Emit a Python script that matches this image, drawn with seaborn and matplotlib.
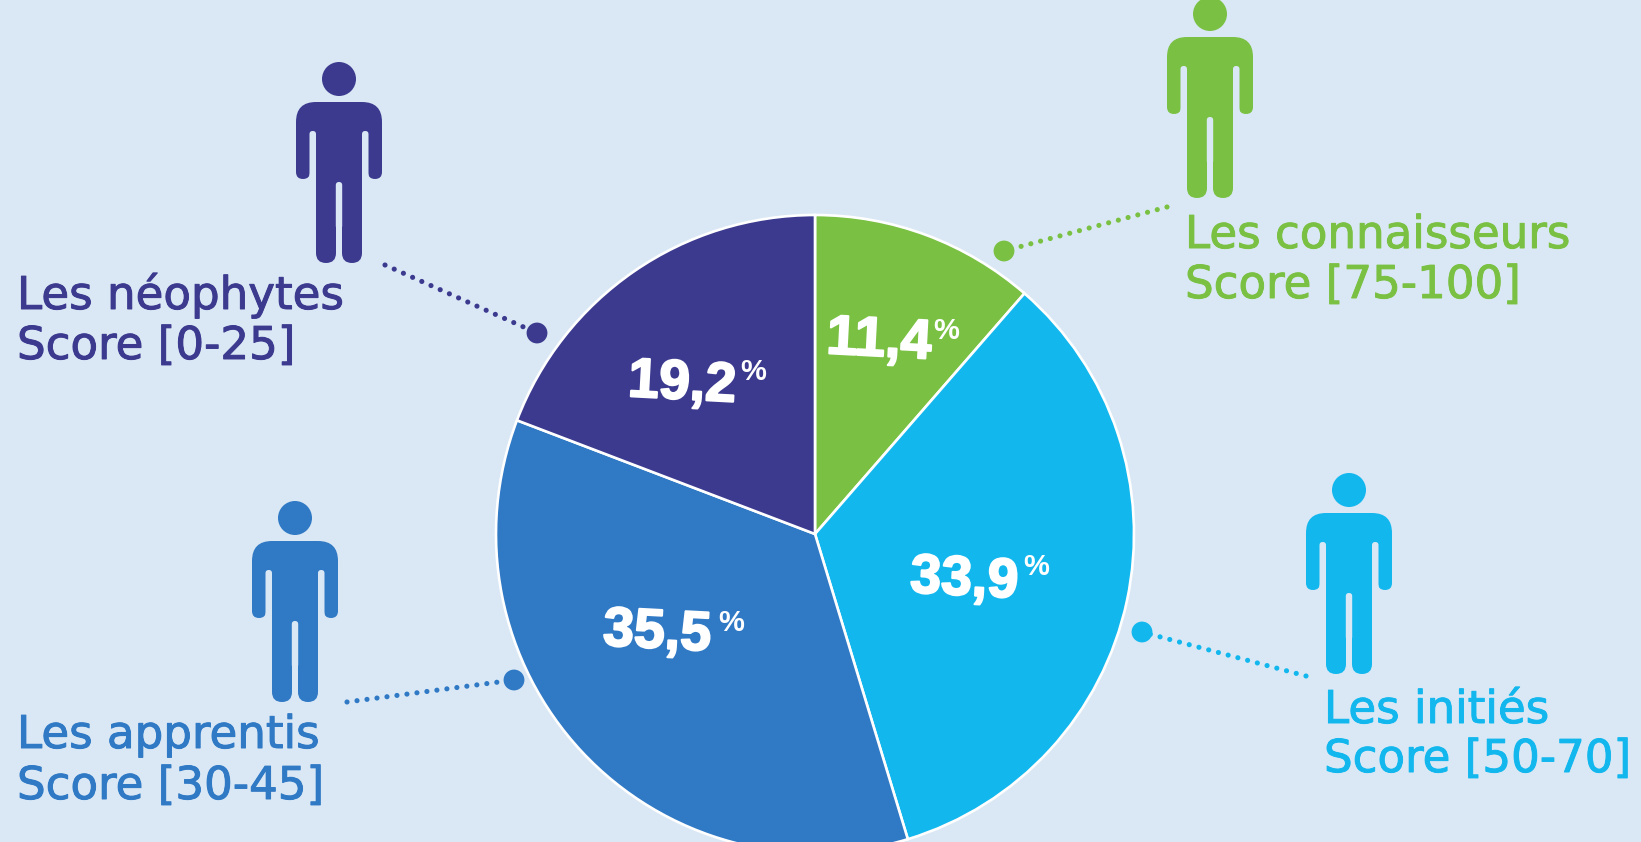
import matplotlib
matplotlib.use("Agg")
import matplotlib.pyplot as plt
import matplotlib.patheffects as pe
import seaborn as sns
from matplotlib.patches import Circle, FancyBboxPatch

# data
groups = ["connaisseurs", "inities", "apprentis", "neophytes"]
shares = [11.4, 33.9, 35.5, 19.2]
titles = ["Les connaisseurs", "Les initiés", "Les apprentis", "Les néophytes"]
scores = ["Score [75-100]", "Score [50-70]", "Score [30-45]", "Score [0-25]"]
colors = ["#7AC143", "#12B7EE", "#2F79C5", "#3C3A8F"]

BG = "#DAE8F5"
W, H = 1641, 842

# layout, in pixels of the picture
pie_center = (815, 534)
pie_radius = 319
head_pos = [(1210, 14), (1349, 490), (295, 518), (339, 79)]
title_pos = [(1185, 248), (1324, 723), (17, 748), (17, 309)]
score_pos = [(1185, 298), (1324, 772), (17, 799), (17, 359)]
dot_pos = [(1004, 251), (1142, 632), (514, 680), (537, 333)]
leader_start = [(1167, 207), (1306, 676), (347, 702), (385, 265)]
pct_pos = [(879, 342), (964, 581), (657, 634), (682, 385)]
sign_pos = [(946, 331), (1036, 567), (731, 623), (753, 372)]

sns.set_theme(style="white")
plt.rcParams["font.family"] = ["DejaVu Sans"]

fig = plt.figure(figsize=(W / 100, H / 100), dpi=100, facecolor=BG)

# the pie, y axis going up
ax_pie = fig.add_axes([0, 0, 1, 1])
ax_pie.pie(
    shares,
    colors=sns.color_palette(colors),
    center=(pie_center[0], H - pie_center[1]),
    radius=pie_radius,
    startangle=90,
    counterclock=False,
    wedgeprops={"edgecolor": "white", "linewidth": 1.9},
)
ax_pie.set_xlim(0, W)
ax_pie.set_ylim(0, H)
ax_pie.set_aspect("equal")
ax_pie.axis("off")

# everything else, y axis going down like the picture
ax = fig.add_axes([0, 0, 1, 1])
ax.patch.set_alpha(0)


def rrect(x0, y0, x1, y1, r, c):
    ax.add_patch(FancyBboxPatch((x0 + r, y0 + r), x1 - x0 - 2 * r, y1 - y0 - 2 * r,
                                boxstyle=f"round,pad={r},rounding_size={r}",
                                fc=c, ec="none", zorder=3))


def person(x, y, c):
    ax.add_patch(Circle((x, y), 17, fc=c, ec="none", zorder=3))
    rrect(x - 43, y + 23, x + 43, y + 85, 20, c)  # shoulders
    rrect(x - 43, y + 45, x - 29, y + 100, 7, c)  # arms
    rrect(x + 29, y + 45, x + 43, y + 100, 7, c)
    rrect(x - 23, y + 40, x + 23, y + 125, 1, c)  # torso
    rrect(x - 23, y + 100, x - 3, y + 184, 10, c)  # legs
    rrect(x + 3, y + 100, x + 23, y + 184, 10, c)
    # slits in background colour
    rrect(x - 29.5, y + 52, x - 23, y + 112, 3.2, BG)
    rrect(x + 23, y + 52, x + 29.5, y + 112, 3.2, BG)
    rrect(x - 3.2, y + 103, x + 3.2, y + 150, 3.2, BG)


brush = [pe.withStroke(linewidth=1.5, foreground="white")]
for i, g in enumerate(groups):
    c = colors[i]
    heavier = [pe.withStroke(linewidth=0.7, foreground=c)]
    person(*head_pos[i], c)
    ax.plot([leader_start[i][0], dot_pos[i][0]], [leader_start[i][1], dot_pos[i][1]],
            color=c, lw=3.7, linestyle=(0, (0.01, 1.95)), dash_capstyle="round", zorder=2)
    ax.text(*title_pos[i], titles[i], color=c, fontsize=32.5, ha="left", va="baseline",
            path_effects=heavier)
    ax.text(*score_pos[i], scores[i], color=c, fontsize=32.5, ha="left", va="baseline",
            path_effects=heavier)
    label = f"{shares[i]:.1f}".replace(".", ",")
    ax.text(*pct_pos[i], label, color="white", fontsize=40, fontweight="bold",
            family=["Liberation Sans"], ha="center", va="center", rotation=-3,
            path_effects=brush, zorder=4)
    ax.text(*sign_pos[i], "%", color="white", fontsize=21, fontweight="bold",
            family=["Liberation Sans"], ha="center", va="center", zorder=4)

sns.scatterplot(
    x=[p[0] for p in dot_pos],
    y=[p[1] for p in dot_pos],
    hue=groups,
    palette=colors,
    s=225,
    linewidth=0,
    legend=False,
    zorder=3,
    ax=ax,
)

ax.set_xlim(0, W)
ax.set_ylim(H, 0)
ax.set_aspect("equal")
ax.axis("off")

fig.savefig("out.png", dpi=100, facecolor=BG)
